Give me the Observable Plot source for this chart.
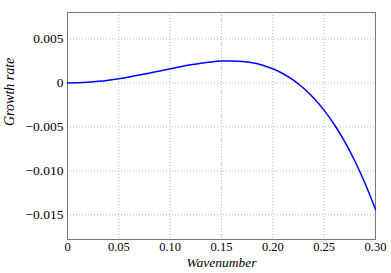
<!DOCTYPE html>
<html><head><meta charset="utf-8">
<script src="https://cdn.jsdelivr.net/npm/d3@7"></script>
<script src="https://cdn.jsdelivr.net/npm/@observablehq/plot@0.6"></script>
<style>
body{margin:0;background:#fff}
#chart svg, #chart svg text{font-family:"Liberation Serif","Times New Roman",Times,Tinos,"DejaVu Serif","Noto Serif",serif !important;}
</style>
</head><body><div id="chart"></div>
<script>
const wavenumber = [0,0.01,0.02,0.03,0.04,0.05,0.06,0.07,0.08,0.09,0.10,0.11,0.12,0.13,0.14,0.15,0.16,0.17,0.18,0.19,0.20,0.21,0.22,0.23,0.24,0.25,0.26,0.27,0.28,0.29,0.30];
const growthRate = [0,0.00002,0.000079,0.000177,0.00031,0.000475,0.000668,0.000884,0.001116,0.001358,0.0016,0.001834,0.002051,0.002238,0.002383,0.002475,0.002499,0.002439,0.002281,0.002007,0.0016,0.001041,0.00031,-0.000614,-0.001751,-0.003125,-0.004759,-0.006678,-0.008906,-0.011471,-0.0144];
const xTicks = [0,0.05,0.10,0.15,0.20,0.25,0.30];
const xTickLabels = ["0","0.05","0.10","0.15","0.20","0.25","0.30"];
const yTicks = [0.005,0,-0.005,-0.010,-0.015];
const yTickLabels = ["0.005","0","\u22120.005","\u22120.010","\u22120.015"];

const data = wavenumber.map((k,i)=>({k, g: growthRate[i]}));
const xFmt = (d)=>xTickLabels[xTicks.findIndex(t=>Math.abs(t-d)<1e-9)] ?? "";
const yFmt = (d)=>yTickLabels[yTicks.findIndex(t=>Math.abs(t-d)<1e-9)] ?? "";
const serif = "Liberation Serif";
const chart = Plot.plot({
  width: 391, height: 273,
  marginLeft: 67, marginRight: 16, marginTop: 12, marginBottom: 34,
  style: {fontSize: "13px", fontFamily: serif, color: "#000", background: "#fff"},
  x: {domain: [0, 0.30], label: null},
  y: {domain: [-0.0178, 0.0080], label: null},
  marks: [
    Plot.gridX(xTicks, {stroke: "#bbb", strokeOpacity: 1, strokeDasharray: "1,2"}),
    Plot.gridY(yTicks, {stroke: "#bbb", strokeOpacity: 1, strokeDasharray: "1,2"}),
    Plot.axisX(xTicks, {tickSize: 0, tickPadding: 3, fontSize: 12.5, fontFamily: serif, tickFormat: xFmt, label: null}),
    Plot.axisY(yTicks, {tickSize: 0, tickPadding: 4, fontSize: 13.5, fontFamily: serif, tickFormat: yFmt, label: null}),
    Plot.frame({stroke: "#777"}),
    Plot.line(data, {x: "k", y: "g", stroke: "#0000ff", strokeWidth: 1.5, curve: "catmull-rom"}),
    Plot.text(["Wavenumber"], {frameAnchor: "bottom", dy: 27, fontStyle: "italic", fontSize: 13.5, fontFamily: serif}),
    Plot.text(["Growth rate"], {frameAnchor: "left", dx: -58, rotate: -90, fontStyle: "italic", fontSize: 14, fontFamily: serif})
  ]
});
document.getElementById("chart").appendChild(chart);
</script></body></html>
